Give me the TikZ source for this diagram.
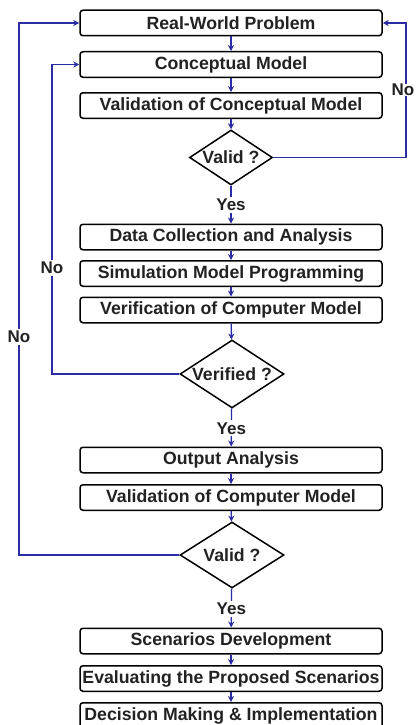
\documentclass[tikz,border=0pt]{standalone}
\usepackage{fontspec}
\setmainfont{Liberation Sans}
\usetikzlibrary{shapes.geometric,arrows.meta}
\definecolor{flowblue}{HTML}{2B2BA6}
\definecolor{ink}{HTML}{222222}
\tikzset{
  stepbox/.style={draw=black, line width=1.5pt, rounded corners=3pt,
    minimum width=302pt, minimum height=25.5pt, inner sep=0pt,
    font=\fontsize{17.7}{19}\selectfont\bfseries, text=ink},
  decision/.style={draw=black, line width=1.5pt, shape=diamond, aspect=1.5,
    inner sep=0pt, font=\fontsize{17.7}{19}\selectfont\bfseries, text=ink},
  flow/.style={draw=flowblue, line width=1.3pt, -{Stealth[length=6pt,width=6pt]}},
  tag/.style={fill=white, inner sep=2pt, font=\fontsize{17}{18}\selectfont\bfseries, text=ink}
}
\begin{document}
\begin{tikzpicture}[x=1pt,y=-1pt]
  \useasboundingbox (0,0) rectangle (415,725);
  \fill[white] (0,0) rectangle (415,725);

  % process boxes and decisions, top to bottom
  \node[stepbox] (rw)   at (231,23)  {Real-World Problem};
  \node[stepbox] (cm)   at (231,64.5) {Conceptual Model};
  \node[stepbox] (vcm)  at (231,105.5) {Validation of Conceptual Model};
  \node[decision, minimum width=83pt, minimum height=55pt] (d1) at (231,157.5) {Valid ?};
  \node[stepbox] (dc)   at (231,237) {Data Collection and Analysis};
  \node[stepbox] (smp)  at (231,273.5) {Simulation Model Programming};
  \node[stepbox] (vcom) at (231,310) {Verification of Computer Model};
  \node[decision, minimum width=104pt, minimum height=68pt] (d2) at (232,374) {Verified ?};
  \node[stepbox] (oa)   at (231,460) {Output Analysis};
  \node[stepbox] (vcpm) at (231,497.5) {Validation of Computer Model};
  \node[decision, minimum width=104pt, minimum height=66pt] (d3) at (232,555) {Valid ?};
  \node[stepbox] (sd)   at (231,641) {Scenarios Development};
  \node[stepbox] (eps)  at (231,678.5) {Evaluating the Proposed Scenarios};
  \node[stepbox] (dmi)  at (231,715.5) {Decision Making \& Implementation};

  % straight-down connectors
  \draw[flow] (rw) -- (cm);
  \draw[flow] (cm) -- (vcm);
  \draw[flow] (vcm) -- (d1);
  \draw[flow] (d1) -- node[tag]{Yes} (dc);
  \draw[flow] (dc) -- (smp);
  \draw[flow] (smp) -- (vcom);
  \draw[flow] (vcom) -- (d2);
  \draw[flow] (d2) -- node[tag, pos=0.52]{Yes} (oa);
  \draw[flow] (oa) -- (vcpm);
  \draw[flow] (vcpm) -- (d3);
  \draw[flow] (d3) -- node[tag, pos=0.52]{Yes} (sd);
  \draw[flow] (sd) -- (eps);
  \draw[flow] (eps) -- (dmi);

  % feedback loops
  \coordinate (r1) at (406,157.5);
  \coordinate (r2) at (406,23);
  \draw[flow] (d1.east) -- (r1) -- (r2) -- (rw.east);
  \node[tag, inner sep=0.5pt] (no1) at (403,90) {No};

  \coordinate (m1) at (52,374);
  \coordinate (m2) at (52,64.5);
  \draw[flow] (d2.west) -- (m1) -- (m2) -- (cm.west);
  \node[tag] (no2) at (52,268) {No};

  \coordinate (l1) at (19,555);
  \coordinate (l2) at (19,23);
  \draw[flow] (d3.west) -- (l1) -- (l2) -- (rw.west);
  \node[tag] (no3) at (19,337) {No};
\end{tikzpicture}
\end{document}
